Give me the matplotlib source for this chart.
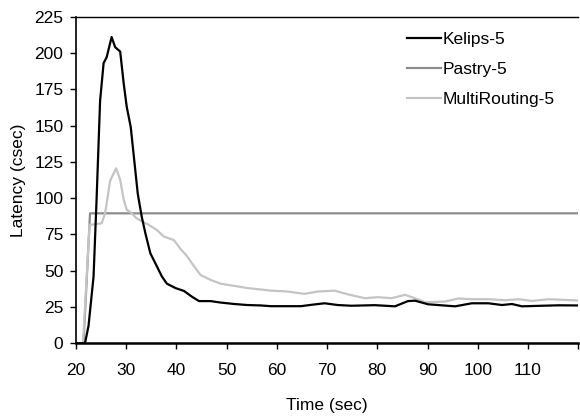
import matplotlib
matplotlib.use('Agg')
import matplotlib.pyplot as plt
from matplotlib import font_manager

names = {f.name for f in font_manager.fontManager.ttflist}
family = 'Liberation Sans Narrow' if 'Liberation Sans Narrow' in names else 'Liberation Sans'
plt.rcParams['font.family'] = [family, 'DejaVu Sans']

# Kelips-5
kelips_t = [20, 21.8, 22.5, 23.5, 24.1, 24.8, 25.5, 26.1, 27.1, 27.8, 28.8, 29.5, 30.1,
            30.9, 31.6, 32.3, 33.1, 33.8, 34.8, 36.1, 37.1, 38.1, 39.8, 41.5, 43.1,
            44.5, 46.8, 48.8, 51.5, 54.1, 56.8, 58.8, 64.8, 67, 69.5, 72.1, 74.8,
            79.5, 83.5, 86.1, 87.5, 90.1, 95.5, 98.8, 102.1, 104.8, 106.8, 108.8,
            112.8, 116.1, 120]
kelips_v = [0, 0, 12, 46, 99, 167, 193, 197, 211, 204, 201, 179, 163,
            149, 126, 103, 87, 76, 62, 53, 46, 41, 38, 36, 32,
            29, 29, 28, 27, 26.3, 26, 25.5, 25.5, 26.5, 27.5, 26.3, 25.8,
            26.2, 25.4, 29, 29.3, 26.8, 25.4, 27.5, 27.5, 26.3, 27, 25.4,
            25.8, 26.1, 26]

# Pastry-5
pastry_t = [20, 21.5, 22.8, 120]
pastry_v = [0, 0, 89.5, 89.5]

# MultiRouting-5
multi_t = [20, 21.4, 22.7, 25.1, 25.8, 26.8, 28.0, 28.8, 29.5, 30.1, 31.1, 32.1, 33.1,
           34.5, 36.1, 37.5, 39.5, 40.8, 42.1, 43.5, 44.8, 46.8, 48.8, 51.5, 54.1,
           56.8, 58.8, 62.1, 65.5, 68.1, 71.5, 74.1, 77.5, 80.1, 82.8, 85.5, 87.5,
           89.5, 93.5, 96.1, 98.8, 102.1, 105.5, 108.1, 110.8, 114.1, 120]
multi_v = [0, 0, 81.5, 82.6, 89.5, 112, 120.5, 112.5, 99, 92, 89.5, 86, 84,
           81.5, 78, 73.5, 71, 65, 60, 53, 47, 43.6, 41, 39.5, 38,
           37, 36.2, 35.6, 34, 35.6, 36.2, 33.7, 31, 31.7, 31, 33.3, 31,
           28.2, 28.7, 30.8, 30.3, 30.3, 29.6, 30.3, 29.1, 30.3, 29.4]

x_ticks = [20, 30, 40, 50, 60, 70, 80, 90, 100, 110, 120]
x_labels = ['20', '30', '40', '50', '60', '70', '80', '90', '100', '110', '']
y_ticks = [0, 25, 50, 75, 100, 125, 150, 175, 200, 225]

fig = plt.figure(figsize=(5.8, 4.18), dpi=100)
ax = fig.add_axes([0.131, 0.179, 0.866, 0.781])

ax.plot(pastry_t, pastry_v, color='#8c8c8c', lw=1.6, label='Pastry-5', zorder=2)
ax.plot(multi_t, multi_v, color='#c4c4c4', lw=1.6, label='MultiRouting-5', zorder=3)
ax.plot(kelips_t, kelips_v, color='black', lw=1.6, label='Kelips-5', zorder=4)

ax.set_xlim(20, 120)
ax.set_ylim(0, 225)
ax.set_xticks(x_ticks)
ax.set_xticklabels(x_labels)
ax.set_yticks(y_ticks)
ax.tick_params(labelsize=12.5, direction='out', length=4, width=1)
ax.tick_params(axis='x', pad=10)
ax.tick_params(axis='y', pad=5)
ax.spines['right'].set_visible(False)
ax.spines['left'].set_linewidth(1.2)
ax.spines['bottom'].set_linewidth(1.8)
ax.spines['top'].set_linewidth(1.0)

ax.set_xlabel('Time (sec)', fontsize=12.5, labelpad=15)
ax.set_ylabel('Latency (csec)', fontsize=12.5, labelpad=6)

handles, labels = ax.get_legend_handles_labels()
order = [2, 0, 1]
ax.legend([handles[i] for i in order], [labels[i] for i in order],
          loc='upper right', bbox_to_anchor=(0.985, 1.0), frameon=False,
          fontsize=12.5, handlelength=2.0, handletextpad=0.1, labelspacing=0.85)

fig.savefig('out.png', dpi=100)
